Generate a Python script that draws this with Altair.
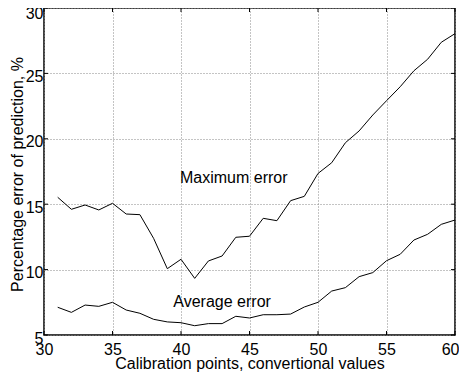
import altair as alt
import pandas as pd

x_vals = list(range(31, 61))
max_err = [15.53, 14.61, 14.94, 14.56, 15.07, 14.25, 14.2, 12.39, 10.07, 10.79,
           9.33, 10.66, 11.04, 12.47, 12.55, 13.92, 13.74, 15.27, 15.6, 17.35,
           18.17, 19.7, 20.6, 21.82, 22.91, 23.98, 25.2, 26.08, 27.38, 28.04]
avg_err = [7.12, 6.73, 7.29, 7.19, 7.5, 6.91, 6.66, 6.2, 6.0, 5.94,
           5.71, 5.87, 5.87, 6.43, 6.3, 6.55, 6.55, 6.6, 7.14, 7.5,
           8.36, 8.62, 9.46, 9.77, 10.68, 11.17, 12.26, 12.7, 13.46, 13.79]
x_ticks = [30, 35, 40, 45, 50, 55, 60]
y_ticks = [5, 10, 15, 20, 25, 30]
labels = ["Maximum error", "Average error"]
label_x = [43.85, 43.0]
label_y = [17.0, 7.5]

FONT = "Liberation Sans"
W, H = 411, 327

df = pd.DataFrame({
    "x": x_vals * 2,
    "v": max_err + avg_err,
    "series": ["Maximum"] * len(x_vals) + ["Average"] * len(x_vals),
})

xs = alt.Scale(domain=[30, 60], nice=False, zero=False)
ys = alt.Scale(domain=[5, 30], nice=False, zero=False)

lines = alt.Chart(df).mark_line(color="black", strokeWidth=1).encode(
    x=alt.X("x:Q", scale=xs,
            axis=alt.Axis(values=x_ticks, title="Calibration points, convertional values",
                          grid=True, gridColor="#888", gridDash=[1, 2], gridWidth=1,
                          ticks=False, tickSize=0, domain=False, labelPadding=6,
                          labelFlush=False, labelOverlap=False,
                          labelAlign=alt.condition("datum.value == 60", alt.value("right"), alt.value("center")),
                          labelOffset=alt.condition("datum.value == 60", alt.value(4), alt.value(0)),
                          labelFont=FONT, labelFontSize=16, labelColor="black",
                          titleFont=FONT, titleFontSize=16, titleFontWeight="normal",
                          titleColor="black", titleBaseline="alphabetic", titleY=33.5)),
    y=alt.Y("v:Q", scale=ys,
            axis=alt.Axis(values=y_ticks, title="Percentage error of prediction, %",
                          grid=True, gridColor="#888", gridDash=[1, 2], gridWidth=1,
                          ticks=False, tickSize=0, domain=False, labelPadding=1,
                          labelOffset=alt.condition("datum.value == 30", alt.value(5.5), alt.value(3)),
                          labelFlush=False, labelOverlap=False,
                          labelFont=FONT, labelFontSize=16, labelColor="black",
                          titleFont=FONT, titleFontSize=16, titleFontWeight="normal",
                          titleColor="black", titleX=-19, titleY=166)),
    detail="series:N",
)

lab_df = pd.DataFrame({"x": label_x, "v": label_y, "t": labels})
texts = alt.Chart(lab_df).mark_text(font=FONT, fontSize=16, color="black",
                                    align="center", baseline="middle").encode(
    x=alt.X("x:Q", scale=xs), y=alt.Y("v:Q", scale=ys), text="t:N")

xt = pd.DataFrame({"x": x_ticks})
yt = pd.DataFrame({"v": y_ticks})
tk = dict(color="black", strokeWidth=1)
tb = alt.Chart(xt).mark_rule(**tk).encode(x=alt.X("x:Q", scale=xs), y=alt.value(H), y2=alt.value(H - 4))
tt = alt.Chart(xt).mark_rule(**tk).encode(x=alt.X("x:Q", scale=xs), y=alt.value(0), y2=alt.value(4))
tl = alt.Chart(yt).mark_rule(**tk).encode(y=alt.Y("v:Q", scale=ys), x=alt.value(0), x2=alt.value(4))
tr = alt.Chart(yt).mark_rule(**tk).encode(y=alt.Y("v:Q", scale=ys), x=alt.value(W), x2=alt.value(W - 4))

chart = alt.layer(lines, texts, tb, tt, tl, tr).properties(
    width=W, height=H,
    autosize=alt.AutoSizeParams(type="none"),
    padding={"left": 36, "top": 0, "right": 4, "bottom": 40},
    background="white",
).configure_view(stroke="black", strokeWidth=1.5)

chart.save("out.html", embed_options={"renderer": "svg", "actions": False})
